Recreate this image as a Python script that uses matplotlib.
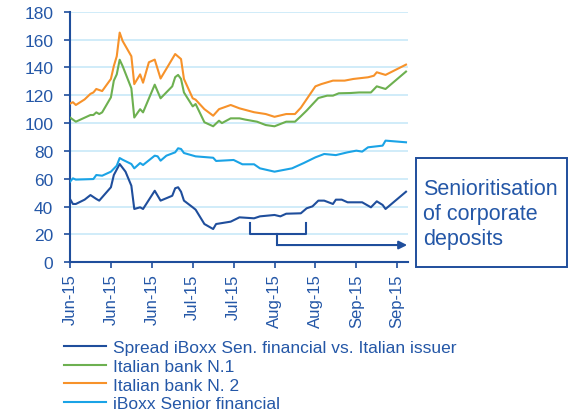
import matplotlib
matplotlib.use("Agg")
import matplotlib.pyplot as plt
import matplotlib.dates as mdates
from matplotlib.patches import Rectangle
import numpy as np
import pandas as pd

plt.rcParams["font.family"] = ["Liberation Sans", "DejaVu Sans"]

# days counted from 1 Jun 2015
START = "2015-06-01"

spread_days = [0, 1, 2, 5, 7, 9, 10, 14, 15, 17, 19, 21, 22, 24, 25, 29, 31, 35, 36, 37, 38, 39,
               42, 43, 46, 49, 50, 55, 58, 63, 65, 70, 72, 74, 79, 81, 83, 85, 87, 90, 91, 93, 95,
               100, 103, 105, 107, 108, 115]
spread_vals = [45.5, 41.9, 41.9, 45, 48.3, 45.5, 44.3, 53.9, 62.7, 70.6, 65.1, 55, 38.3, 39.5, 38.3,
               51.4, 44.3, 47.8, 53.2, 53.9, 50.7, 44.3, 39.5, 37.8, 27.5, 23.9, 27.5, 29.2, 32.3,
               31.6, 33, 34, 33, 34.9, 35.2, 38.8, 40.2, 44.3, 44.3, 41.9, 45, 45, 43.1, 43.1, 39.5,
               43.8, 41.2, 38.3, 50.7]

bank1_days = [0, 2, 7, 8, 9, 10, 11, 14, 15, 16, 17, 18, 21, 22, 24, 25, 29, 31, 35, 36, 37, 38, 39,
              42, 43, 46, 49, 51, 52, 55, 58, 60, 64, 67, 70, 74, 77, 79, 81, 85, 88, 90, 92, 96, 99,
              103, 105, 108, 115]
bank1_vals = [104, 101, 105.8, 105.8, 107.7, 106.5, 107.7, 118.5, 130.5, 135, 145.5, 141, 125, 104,
              110, 107.7, 127.6, 117.8, 126.4, 133, 134.6, 131.7, 122, 112, 113.7, 100.6, 97.7, 101.7,
              100, 103.4, 103.4, 102.5, 101, 98.6, 97.7, 101, 101, 104.9, 109, 118, 119.7, 119.7,
              121.4, 121.6, 122, 122, 126.4, 124.5, 137]

bank2_days = [0, 1, 2, 5, 7, 8, 9, 11, 14, 15, 16, 17, 18, 21, 22, 24, 25, 27, 29, 31, 36, 38, 39,
              42, 43, 46, 49, 51, 55, 58, 63, 67, 70, 74, 77, 79, 84, 86, 90, 94, 97, 102, 104, 105,
              108, 115]
bank2_vals = [114, 115, 113, 117, 121, 122, 124.5, 123, 131.7, 141, 148, 165, 159, 148, 128, 135, 129,
              143.7, 145.6, 132, 149.6, 146, 131.7, 117.8, 116.8, 110, 105.3, 110, 113, 110.6, 107.8,
              106.5, 104.5, 106.5, 106.5, 111, 126.4, 128, 130.5, 130.5, 131.7, 132.9, 134, 136.5,
              134.6, 142]

iboxx_days = [0, 1, 2, 8, 9, 11, 14, 16, 17, 18, 21, 22, 24, 25, 29, 30, 31, 33, 36, 37, 38, 39, 43,
              49, 50, 56, 59, 63, 65, 70, 76, 80, 84, 87, 91, 95, 98, 100, 102, 107, 108, 115]
iboxx_vals = [57.9, 60.3, 59.4, 59.8, 62.7, 62.2, 65.1, 69.4, 74.9, 73.7, 70.6, 67.5, 71.3, 69.9, 76.6,
              76.1, 73, 76.6, 79, 81.9, 81.4, 78.5, 76.1, 75.1, 72.8, 73.5, 70.4, 70.4, 67.5, 65.1,
              67.5, 71.3, 75.4, 77.8, 77, 79, 80.2, 79.5, 82.6, 83.8, 87.4, 86.2]

series_labels = ["Spread iBoxx Sen. financial vs. Italian issuer", "Italian bank N.1",
                 "Italian bank N. 2", "iBoxx Senior financial"]
box_text = "Senioritisation\nof corporate\ndeposits"

# bracket marking the senioritisation period and the arrow after it
bracket_days = [61.6, 80.7]
arrow_days = [71.0, 115.4]
bracket_levels = [28.2, 20.3, 12.4]

BLUE = "#1F4E9C"
TEXT = "#2457A7"
GREEN = "#6DB050"
ORANGE = "#F7922A"
LIGHT = "#1AA3E6"
GRID = "#C4E7F8"

base = mdates.date2num(pd.Timestamp(START))

fig = plt.figure(figsize=(5.71, 4.14), dpi=100)
ax = fig.add_axes([0.1226, 0.364, 0.592, 0.6053])

lines = []
for days, vals, color in [(spread_days, spread_vals, BLUE), (bank1_days, bank1_vals, GREEN),
                          (bank2_days, bank2_vals, ORANGE), (iboxx_days, iboxx_vals, LIGHT)]:
    ln, = ax.plot(base + np.array(days), vals, color=color, lw=1.5, zorder=3)
    lines.append(ln)

# bracket + arrow
bx = base + np.array(bracket_days)
ax.plot([bx[0], bx[0], bx[1], bx[1]],
        [bracket_levels[0], bracket_levels[1], bracket_levels[1], bracket_levels[0]],
        color=BLUE, lw=1.5, zorder=3)
arr = base + np.array(arrow_days)
ax.plot([arr[0], arr[0]], [bracket_levels[1], bracket_levels[2]], color=BLUE, lw=1.5, zorder=3)
ax.annotate("", xy=(arr[1], bracket_levels[2]), xytext=(arr[0], bracket_levels[2]),
            arrowprops=dict(arrowstyle="-|>", color=BLUE, lw=1.5, mutation_scale=12,
                            shrinkA=0, shrinkB=0), zorder=3)

ax.set_ylim(0, 180)
ax.set_yticks(np.arange(0, 181, 20))
ax.set_xlim(base, base + 115.7)
ax.set_xticks(base + np.arange(0, 113, 14))
ax.xaxis.set_major_formatter(mdates.DateFormatter("%b-%y"))

ax.yaxis.grid(True, color=GRID, lw=1.1)
ax.set_axisbelow(True)
for side in ["top", "right"]:
    ax.spines[side].set_visible(False)
for side in ["left", "bottom"]:
    ax.spines[side].set_color(BLUE)
    ax.spines[side].set_linewidth(1.5)

ax.tick_params(axis="y", colors=BLUE, length=4, width=1.2, pad=8, labelsize=12.5,
               labelcolor=TEXT)
ax.tick_params(axis="x", colors=BLUE, length=4, width=1.2, pad=4, labelsize=12,
               labelcolor=TEXT, labelrotation=90)

fig.legend(lines, series_labels, loc="upper left", bbox_to_anchor=(0.112, 0.176),
           frameon=False, fontsize=12.5, handlelength=2.45, handletextpad=0.35,
           labelspacing=0.2, borderpad=0, borderaxespad=0, labelcolor=TEXT)

fig.patches.append(Rectangle((0.7285, 0.353), 0.265, 0.263, transform=fig.transFigure,
                             fill=False, edgecolor=BLUE, lw=1.4))
fig.text(0.741, 0.481, box_text, color=TEXT, fontsize=15.5, ha="left", va="center",
         linespacing=1.25)

fig.savefig("out.png", dpi=100)
